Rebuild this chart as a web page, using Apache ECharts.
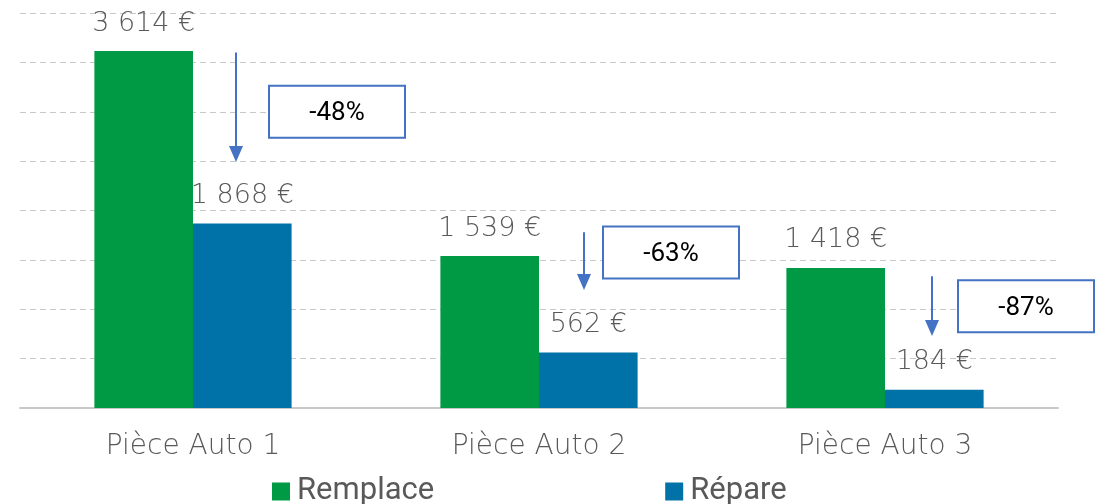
<!DOCTYPE html>
<html>
<head>
<meta charset="utf-8">
<script src="https://cdn.jsdelivr.net/npm/echarts@6/dist/echarts.min.js"></script>
<style>
  html, body { margin: 0; padding: 0; background: #fff; }
  #chart { width: 1102px; height: 504px; }
</style>
</head>
<body>
<div id="chart"></div>
<script>
const categories = ['Pièce Auto 1', 'Pièce Auto 2', 'Pièce Auto 3'];
const remplace = [3614, 1539, 1418];
const repare = [1868, 562, 184];
const reductions = ['-48%', '-63%', '-87%'];
// arrows go from / to these values, boxes centered on boxValues
const arrowFrom = [3600, 1780, 1335];
const arrowTo = [2490, 1195, 730];
const boxValues = [3000, 1575, 1030];

const labelFont = '"DejaVu Sans", sans-serif';

function euro(v) {
  return String(v).replace(/\B(?=(\d{3})+(?!\d))/g, ' ') + ' €';
}

let chart = echarts.init(document.getElementById('chart'));
chart.setOption({
  animation: false,
  grid: { left: 20, right: 44, top: 13, bottom: 96 },
  legend: {
    top: 471,
    left: 267,
    itemGap: 231,
    itemWidth: 18,
    itemHeight: 18,
    icon: 'rect',
    textStyle: { fontFamily: 'Roboto', fontSize: 31, color: '#595959', padding: [0, 0, 0, 2] },
    data: ['Remplace', 'Répare']
  },
  xAxis: {
    type: 'category',
    data: categories,
    axisTick: { show: false },
    axisLine: { lineStyle: { color: '#c9c9c9', width: 2 } },
    axisLabel: { margin: 25, fontFamily: labelFont, fontWeight: 200, fontSize: 28, color: '#595959' }
  },
  yAxis: {
    type: 'value',
    min: 0,
    max: 4000,
    interval: 500,
    axisLabel: { show: false },
    axisLine: { show: false },
    axisTick: { show: false },
    splitLine: { lineStyle: { color: '#c8c8c8', type: [6, 4], width: 1 } }
  },
  series: [
    {
      name: 'Remplace',
      type: 'bar',
      data: remplace,
      barGap: '0%',
      barCategoryGap: '43%',
      itemStyle: { color: '#009a44' },
      label: {
        show: true, position: 'top', distance: 14,
        formatter: p => euro(p.value),
        fontFamily: labelFont, fontWeight: 200, fontSize: 27, color: '#595959'
      }
    },
    {
      name: 'Répare',
      type: 'bar',
      data: repare,
      itemStyle: { color: '#0072a7' },
      label: {
        show: true, position: 'top', distance: 14,
        formatter: p => euro(p.value),
        fontFamily: labelFont, fontWeight: 200, fontSize: 27, color: '#595959'
      }
    }
  ]
});

function drawNotes() {
  const arrowDx = [43, 45, 47];
  const boxDx = [144, 132, 141];
  let elements = [];
  categories.forEach((c, i) => {
    const p0 = chart.convertToPixel({ gridIndex: 0 }, [c, arrowFrom[i]]);
    const p1 = chart.convertToPixel({ gridIndex: 0 }, [c, arrowTo[i]]);
    const pb = chart.convertToPixel({ gridIndex: 0 }, [c, boxValues[i]]);
    const x = p0[0] + arrowDx[i];
    elements.push({
      type: 'line',
      shape: { x1: x, y1: p0[1], x2: x, y2: p1[1] - 14 },
      style: { stroke: '#4472c4', lineWidth: 2 }
    });
    elements.push({
      type: 'polygon',
      shape: { points: [[x - 7, p1[1] - 16], [x + 7, p1[1] - 16], [x, p1[1]]] },
      style: { fill: '#4472c4' }
    });
    const bx = pb[0] + boxDx[i];
    elements.push({
      type: 'rect',
      shape: { x: bx - 68, y: pb[1] - 26, width: 136, height: 52 },
      style: { fill: '#fff', stroke: '#4472c4', lineWidth: 2 }
    });
    elements.push({
      type: 'text',
      x: bx, y: pb[1] + 2,
      style: {
        text: reductions[i], fill: '#000', fontFamily: 'Roboto', fontSize: 26,
        align: 'center', verticalAlign: 'middle'
      }
    });
  });
  chart.setOption({ graphic: { elements: elements } });
}
drawNotes();
</script>
</body>
</html>
